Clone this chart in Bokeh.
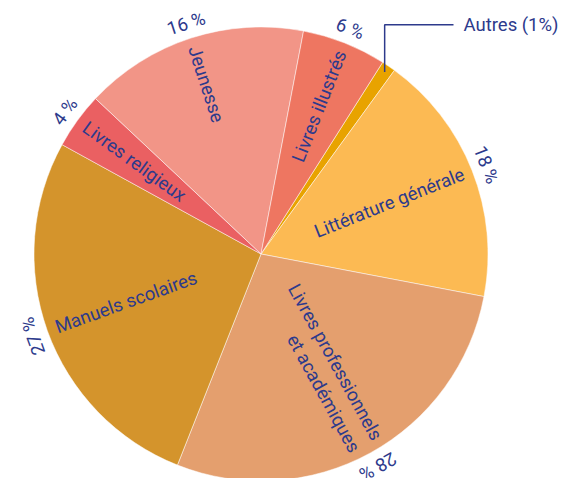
import math
from bokeh.plotting import figure
from bokeh.models import Range1d, ColumnDataSource
from bokeh.core.properties import value
from bokeh.embed import file_html
from bokeh.resources import INLINE

# ---- data ----
categories = ["Autres", "Littérature générale", "Livres professionnels\net académiques",
              "Manuels scolaires", "Livres religieux", "Jeunesse", "Livres illustrés"]
shares = [1, 18, 28, 27, 4, 16, 6]
pct_labels = ["1%", "18 %", "28 %", "27 %", "4 %", "16 %", "6 %"]
colors = ["#E8A300", "#FCBA53", "#E49F6E", "#D4942C", "#EA6062", "#F29587", "#EE7661"]

# ---- layout ----
W, H = 565, 478
CX, CY, R = 260.5, 224.5, 227
START = math.radians(57.6)
TXT = "#2D3A8C"
FONT = value("Roboto")
FS = "18.5px"

total = float(sum(shares))
starts, ends, mids = [], [], []
acc = 0.0
for v in shares:
    a0 = START - acc / total * 2 * math.pi
    a1 = a0 - v / total * 2 * math.pi
    starts.append(a1)
    ends.append(a0)
    mids.append((a0 + a1) / 2)
    acc += v

p = figure(width=W, height=H, x_range=Range1d(0, W), y_range=Range1d(0, H),
           output_backend="svg", toolbar_location=None, min_border=0)
p.axis.visible = False
p.grid.visible = False
p.outline_line_color = None
p.background_fill_color = "white"

src = ColumnDataSource(dict(x=[CX] * len(shares), y=[CY] * len(shares),
                            s=starts, e=ends, c=colors))
p.wedge(x="x", y="y", radius=R, start_angle="s", end_angle="e", source=src,
        fill_color="c", line_color="white", line_width=0.7, line_alpha=0.7,
        direction="anticlock")

# category labels (radial)
for i, cat in enumerate(categories):
    if i == 0:
        continue
    m = mids[i]
    rr = 218
    x = CX + rr * math.cos(m)
    y = CY + rr * math.sin(m)
    if math.cos(m) >= 0:
        ang, align = m, "right"
    else:
        ang, align = m + math.pi, "left"
    p.text(x=[x], y=[y], text=[cat], angle=ang, text_align=align,
           text_baseline="middle", text_font=FONT, text_font_size=FS,
           text_color=TXT, text_line_height=1.15)

# percentage labels (tangential)
for i, lab in enumerate(pct_labels):
    if i == 0:
        continue
    m = mids[i]
    rr = 242
    x = CX + rr * math.cos(m)
    y = CY + rr * math.sin(m)
    p.text(x=[x], y=[y], text=[lab], angle=m - math.pi / 2, text_align="center",
           text_baseline="middle", text_font=FONT, text_font_size=FS,
           text_color=TXT)

# callout for the small slice
m0 = mids[0]
x0 = CX + 220 * math.cos(m0)
y0 = CY + 220 * math.sin(m0)
ytop = 453.7
xend = 453
p.line(x=[x0, x0, xend], y=[y0, ytop, ytop], line_color=TXT, line_width=1.5)
p.text(x=[xend + 10], y=[ytop], text=[categories[0] + " (" + pct_labels[0] + ")"],
       text_align="left", text_baseline="middle", text_font=FONT,
       text_font_size=FS, text_color=TXT)

open("out.html", "w").write(file_html(p, INLINE))
